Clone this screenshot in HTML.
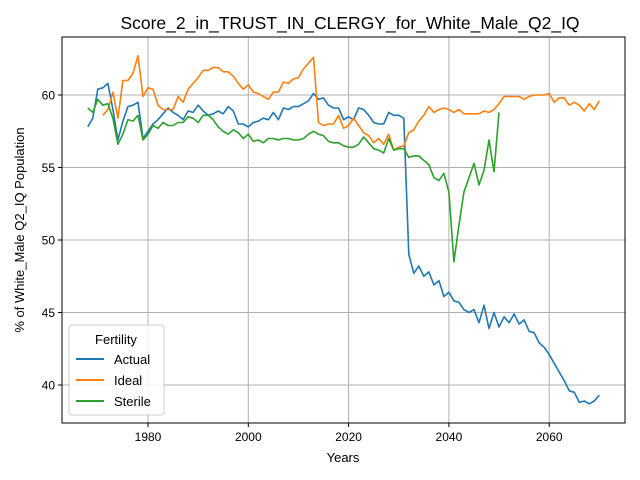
<!DOCTYPE html>
<html><head><meta charset="utf-8"><style>
html,body{margin:0;padding:0;background:#fff;}
svg{display:block;font-family:"Liberation Sans","DejaVu Sans",sans-serif;}
</style></head><body>
<svg id="chart" width="640" height="480">
<rect x="0" y="0" width="640" height="480" fill="#fff"/>
<text x="350" y="29" font-size="17.5" text-anchor="middle">Score_2_in_TRUST_IN_CLERGY_for_White_Male_Q2_IQ</text>
<g id="grid"></g>
<g id="series"></g>
<rect x="62" y="37" width="563" height="386" fill="none" stroke="#000" stroke-width="1"/>
<g id="ticks"></g>
<text x="343" y="462" font-size="13" text-anchor="middle">Years</text>
<text transform="translate(24,230) rotate(-90)" font-size="13" text-anchor="middle">% of White_Male Q2_IQ Population</text>
<g>
<rect x="69" y="325" width="95" height="90" rx="3" fill="#fff" fill-opacity="0.85" stroke="#ccc"/>
<text x="116" y="344" font-size="13" text-anchor="middle">Fertility</text>
<line x1="76" y1="359" x2="104" y2="359" stroke="#1f77b4" stroke-width="2"/>
<text x="114" y="364" font-size="13">Actual</text>
<line x1="76" y1="380" x2="104" y2="380" stroke="#ff7f0e" stroke-width="2"/>
<text x="114" y="385" font-size="13">Ideal</text>
<line x1="76" y1="401" x2="104" y2="401" stroke="#2ca02c" stroke-width="2"/>
<text x="114" y="406" font-size="13">Sterile</text>
</g>
</svg>
<script>
const actualStart = 1968;
const actualValues = [57.8,58.4,60.4,60.5,60.8,59.0,56.9,58.2,59.2,59.3,59.5,57.0,57.5,58.0,58.3,58.7,59.1,58.8,58.6,58.3,58.9,58.8,59.3,58.9,58.6,58.7,58.9,58.7,59.2,58.9,58.0,58.0,57.8,58.1,58.2,58.4,58.3,58.8,58.3,59.1,59.0,59.2,59.2,59.4,59.6,60.1,59.7,59.8,59.3,59.1,59.1,58.3,58.5,58.3,59.1,59.0,58.6,58.1,58.0,58.0,58.8,58.6,58.6,58.4,49.0,47.7,48.2,47.5,47.8,46.9,47.2,46.1,46.4,45.8,45.7,45.2,45.0,45.2,44.3,45.5,43.9,45.0,44.0,44.7,44.3,44.9,44.2,44.5,43.7,43.6,42.9,42.6,42.1,41.5,40.9,40.3,39.6,39.5,38.8,38.9,38.7,38.9,39.3];
const idealStart = 1971;
const idealValues = [58.6,59.0,60.2,58.4,61.0,61.0,61.5,62.7,59.9,60.5,60.4,59.3,59.0,59.0,59.0,59.9,59.5,60.4,60.8,61.2,61.7,61.7,61.9,61.9,61.6,61.6,61.3,60.8,60.4,60.7,60.2,60.1,59.9,59.7,60.2,60.2,60.9,60.8,61.1,61.2,61.8,62.2,62.6,58.1,57.9,58.0,58.0,58.6,57.7,57.9,58.4,57.9,57.4,57.2,56.7,57.0,56.6,57.3,56.2,56.4,56.5,57.4,57.6,58.2,58.6,59.2,58.8,59.0,59.1,59.0,58.8,59.0,58.7,58.7,58.7,58.7,58.9,58.8,59.0,59.4,59.9,59.9,59.9,59.9,59.7,59.9,60.0,60.0,60.0,60.1,59.5,59.8,59.8,59.3,59.5,59.3,58.9,59.4,59.0,59.6];
const sterileStart = 1968;
const sterileValues = [59.1,58.8,59.7,59.3,59.4,58.4,56.6,57.3,58.3,58.2,58.6,56.9,57.3,57.9,57.7,58.1,57.9,57.9,58.1,58.1,58.5,58.4,58.1,58.6,58.6,58.3,57.8,57.5,57.3,57.6,57.4,57.0,57.3,56.8,56.9,56.7,57.0,57.0,56.9,57.0,57.0,56.9,56.9,57.0,57.3,57.5,57.3,57.2,56.8,56.7,56.7,56.5,56.4,56.4,56.6,57.1,56.7,56.3,56.2,56.0,57.0,56.2,56.3,56.3,55.7,55.8,55.8,55.5,55.2,54.3,54.1,54.6,53.3,48.5,51.0,53.3,54.3,55.3,53.8,54.8,56.9,54.7,58.8];
const xTicks = [1980,2000,2020,2040,2060];
const yTicks = [40,45,50,55,60];

const NS = "http://www.w3.org/2000/svg";
function xs(y){ return 148 + (y - 1980) * 5.015; }
function ys(v){ return 385 - (v - 40) * 14.5; }
const grid = document.getElementById('grid');
const ticks = document.getElementById('ticks');
function mk(tag, attrs, parent){ const e = document.createElementNS(NS, tag); for (const k in attrs) e.setAttribute(k, attrs[k]); parent.appendChild(e); return e; }
xTicks.forEach(t => {
  const x = xs(t);
  const g = mk('line', {x1:x, y1:37, x2:x, y2:423, stroke:'#b0b0b0', 'stroke-width':1}, grid);
  
  
  mk('line', {x1:x, y1:423, x2:x, y2:427, stroke:'#000'}, ticks);
  const tx = mk('text', {x:x, y:441, 'font-size':12, 'text-anchor':'middle'}, ticks);
  tx.textContent = t;
  
  
});
yTicks.forEach(t => {
  const y = ys(t);
  const g = mk('line', {x1:62, y1:y, x2:625, y2:y, stroke:'#b0b0b0', 'stroke-width':1}, grid);
  
  
  mk('line', {x1:58, y1:y, x2:62, y2:y, stroke:'#000'}, ticks);
  const tx = mk('text', {x:55, y:y + 4.5, 'font-size':12, 'text-anchor':'end'}, ticks);
  tx.textContent = t;
  
  
});
const series = document.getElementById('series');
function drawLine(start, vals, color, name){
  const pts = vals.map((v, i) => xs(start + i).toFixed(1) + ',' + ys(v).toFixed(1)).join(' ');
  const p = mk('polyline', {points:pts, fill:'none', stroke:color, 'stroke-width':1.6, 'stroke-linejoin':'round'}, series);
  
  
}
drawLine(actualStart, actualValues, '#1f77b4', 'actual-line');
drawLine(idealStart, idealValues, '#ff7f0e', 'ideal-line');
drawLine(sterileStart, sterileValues, '#2ca02c', 'sterile-line');
</script>
</body></html>
